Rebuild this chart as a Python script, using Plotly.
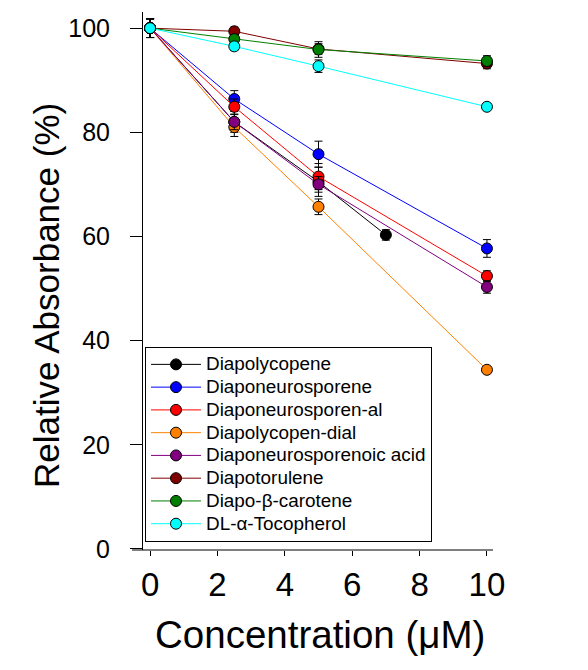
import plotly.graph_objects as go

names = ["Diapolycopene", "Diaponeurosporene", "Diaponeurosporen-al", "Diapolycopen-dial",
         "Diaponeurosporenoic acid", "Diapotorulene", "Diapo-β-carotene", "DL-α-Tocopherol"]
colors = ["#000000", "#0000ff", "#ff0000", "#ff8000", "#800080", "#800000", "#008000", "#00ffff"]

x_black = [0, 2.5, 5, 7]
x_std = [0, 2.5, 5, 10]

y_diapolycopene = [100, 82.0, 70.5, 60.3]
y_diaponeurosporene = [100, 86.4, 75.8, 57.7]
y_diaponeurosporen_al = [100, 84.9, 71.5, 52.4]
y_diapolycopen_dial = [100, 81.0, 65.7, 34.4]
y_diaponeurosporenoic = [100, 82.0, 70.0, 50.3]
y_diapotorulene = [100, 99.4, 96.0, 93.2]
y_diapo_bcarotene = [100, 97.9, 95.9, 93.7]
y_tocopherol = [100, 96.5, 92.7, 84.9]

e_diapolycopene = [1.8, 2.0, 2.8, 1.0]
e_diaponeurosporene = [1.8, 1.6, 2.5, 1.7]
e_diaponeurosporen_al = [1.8, 1.5, 2.5, 1.0]
e_diapolycopen_dial = [1.8, 1.8, 1.5, 0.6]
e_diaponeurosporenoic = [1.8, 1.5, 1.5, 1.2]
e_diapotorulene = [1.8, 0.8, 1.0, 1.0]
e_diapo_bcarotene = [1.8, 0.8, 1.5, 1.0]
e_tocopherol = [1.8, 0.8, 1.2, 0.6]

xs = [x_black] + [x_std] * 7
ys = [y_diapolycopene, y_diaponeurosporene, y_diaponeurosporen_al, y_diapolycopen_dial,
      y_diaponeurosporenoic, y_diapotorulene, y_diapo_bcarotene, y_tocopherol]
es = [e_diapolycopene, e_diaponeurosporene, e_diaponeurosporen_al, e_diapolycopen_dial,
      e_diaponeurosporenoic, e_diapotorulene, e_diapo_bcarotene, e_tocopherol]

xticks = [0, 2, 4, 6, 8, 10]
yticks = [0, 20, 40, 60, 80, 100]

fig = go.Figure()
for n, c, x, y, e in zip(names, colors, xs, ys, es):
    fig.add_trace(go.Scatter(
        x=x, y=y, name='<span style="font-size:18.9px">' + n + '</span>',
        mode="lines+markers",
        line=dict(color=c, width=1),
        marker=dict(color=c, size=11, line=dict(color="black", width=1)),
        error_y=dict(type="data", array=e, color="black", thickness=1, width=4),
    ))

OFF = 8  # page body margin
W, H = 588 - 2 * OFF, 670 - 2 * OFF
L, R, T, B = 143 - OFF, 493 - OFF, 12 - OFF, 550 - OFF
PW, PH = R - L, B - T
font = "Liberation Sans, Arial, sans-serif"


def px(xp):
    return (xp - OFF - L) / PW


def py(yp):
    return (B - (yp - OFF)) / PH


fig.update_layout(
    width=W, height=H,
    margin=dict(l=L, r=W - R, t=T, b=H - B, pad=0),
    paper_bgcolor="white", plot_bgcolor="white",
    font=dict(family=font, color="black"),
    showlegend=True,
    legend=dict(
        x=px(145), y=py(347), xanchor="left", yanchor="top",
        bgcolor="white", bordercolor="black", borderwidth=1,
        font=dict(size=15.2, family=font, color="black"),
        tracegroupgap=0, itemwidth=50,
    ),
    xaxis=dict(
        range=[-0.21, 10.18], tickvals=xticks, ticks="outside", ticklen=5,
        tickcolor="black", tickwidth=1, showline=False, showgrid=False, zeroline=False,
        tickfont=dict(size=33, family=font), ticklabelstandoff=0,
    ),
    yaxis=dict(
        range=[-0.2, 103.1], tickvals=yticks, ticks="outside", ticklen=12,
        tickcolor="black", tickwidth=1, showline=True, linecolor="black", linewidth=1,
        showgrid=False, zeroline=False,
        tickfont=dict(size=25, family=font), ticklabelstandoff=15,
    ),
    shapes=[dict(type="line", xref="paper", yref="paper",
                 x0=px(132), x1=1, y0=0, y1=0,
                 line=dict(color="black", width=1))],
    annotations=[
        dict(text="Relative Absorbance (%)", xref="paper", yref="paper",
             x=px(47), y=py(296), textangle=-90,
             showarrow=False, xanchor="center", yanchor="middle",
             font=dict(size=35, family=font, color="black")),
        dict(text="Concentration (μM)", xref="paper", yref="paper",
             x=px(320), y=py(634),
             showarrow=False, xanchor="center", yanchor="middle",
             font=dict(size=38.5, family=font, color="black")),
    ],
)

fig.write_html("out.html")
